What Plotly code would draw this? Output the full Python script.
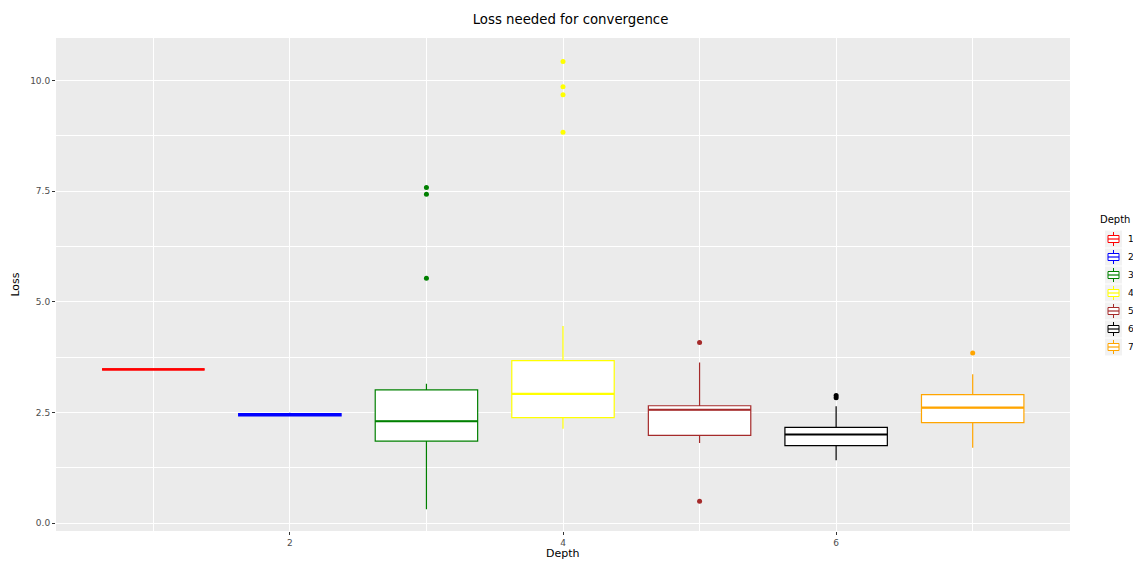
import plotly.graph_objects as go

depths = [1, 2, 3, 4, 5, 6, 7]
colors = ["red", "blue", "green", "yellow", "brown", "black", "orange"]
lower_fence = [3.47, 2.41, 0.31, 2.13, 1.81, 1.42, 1.70]
q1_vals = [3.47, 2.42, 1.85, 2.38, 1.98, 1.75, 2.27]
median_vals = [3.47, 2.44, 2.30, 2.92, 2.56, 2.00, 2.61]
q3_vals = [3.47, 2.47, 3.01, 3.67, 2.65, 2.16, 2.90]
upper_fence = [3.47, 2.49, 3.15, 4.45, 3.63, 2.64, 3.36]
outliers = {
    1: [],
    2: [],
    3: [7.58, 7.43, 5.53],
    4: [10.43, 9.86, 9.68, 8.83],
    5: [4.08, 0.49],
    6: [2.88, 2.83],
    7: [3.84],
}
box_width = 0.75

fig = go.Figure()
for i, d in enumerate(depths):
    fig.add_trace(go.Box(
        x=[d], q1=[q1_vals[i]], median=[median_vals[i]], q3=[q3_vals[i]],
        lowerfence=[lower_fence[i]], upperfence=[upper_fence[i]],
        name=str(d), width=box_width, whiskerwidth=0,
        line=dict(color=colors[i], width=1.2 if d > 1 else 2.2),
        fillcolor="white", boxpoints=False, hoverinfo="skip", showlegend=False,
    ))
    # thicker median line, as in ggplot
    fig.add_trace(go.Scatter(
        x=[d - box_width / 2, d + box_width / 2], y=[median_vals[i]] * 2,
        mode="lines", line=dict(color=colors[i], width=2.2 if d != 2 else 1.2),
        showlegend=False, hoverinfo="skip",
    ))
    if outliers[d]:
        fig.add_trace(go.Scatter(
            x=[d] * len(outliers[d]), y=outliers[d], mode="markers",
            marker=dict(color=colors[i], size=5), showlegend=False,
            hoverinfo="skip",
        ))

# ---- manual ggplot-style legend (layout, in paper coordinates) ----
PL, PR, PT, PB = 56, 1070, 38, 531  # plot area in page pixels


def px(x):
    return (x - PL) / (PR - PL)


def py(y):
    return (PB - y) / (PB - PT)


shapes = []
annotations = [dict(text="Depth", x=px(1098), y=py(220), xref="paper", yref="paper",
                    xanchor="left", yanchor="middle", showarrow=False,
                    font=dict(size=10, color="black")),
               dict(text="Depth", x=0.5, y=py(553), xref="paper", yref="paper",
                    xanchor="center", yanchor="middle", showarrow=False,
                    font=dict(size=11, color="black"))]
for i, d in enumerate(depths):
    cy = 239 + 18 * i
    c = colors[i]
    shapes.append(dict(type="rect", xref="paper", yref="paper",
                       x0=px(1105), x1=px(1122), y0=py(cy + 8.5), y1=py(cy - 8.5),
                       fillcolor="#F2F2F2", line=dict(width=0), layer="above"))
    shapes.append(dict(type="line", xref="paper", yref="paper",
                       x0=px(1113.5), x1=px(1113.5), y0=py(cy + 7), y1=py(cy - 7),
                       line=dict(color=c, width=1), layer="above"))
    shapes.append(dict(type="rect", xref="paper", yref="paper",
                       x0=px(1108), x1=px(1119), y0=py(cy + 3.5), y1=py(cy - 3.5),
                       fillcolor="white", line=dict(color=c, width=1), layer="above"))
    shapes.append(dict(type="line", xref="paper", yref="paper",
                       x0=px(1108), x1=px(1119), y0=py(cy), y1=py(cy),
                       line=dict(color=c, width=1.2), layer="above"))
    annotations.append(dict(text=str(d), x=px(1126), y=py(cy), xref="paper", yref="paper",
                            xanchor="left", yanchor="middle", showarrow=False,
                            font=dict(size=9, color="black")))

fig.update_layout(
    width=1125, height=553,
    margin=dict(l=48, r=63, t=30, b=30, autoexpand=False),
    paper_bgcolor="white", plot_bgcolor="#EBEBEB",
    font=dict(family="DejaVu Sans", color="#4D4D4D", size=9),
    title=dict(text="Loss needed for convergence", x=0.5, xanchor="center",
               y=0.98, yanchor="middle",
               font=dict(size=13.3, color="black")),
    showlegend=False,
    shapes=shapes,
    annotations=annotations,
    boxmode="overlay",
)
fig.update_xaxes(
    range=[0.2875, 7.7125], tickvals=[2, 4, 6], ticktext=["2", "4", "6"],
    showgrid=True, gridcolor="white", gridwidth=1.1, zeroline=False,
    ticks="outside", ticklen=3, tickcolor="#333333",
    minor=dict(tickvals=[1, 3, 5, 7], showgrid=True, gridcolor="white", gridwidth=0.5, ticks=""),
)
fig.update_yaxes(
    range=[-0.18, 10.96], tickvals=[0, 2.5, 5, 7.5, 10],
    ticktext=["0.0", "2.5", "5.0", "7.5", "10.0"],
    showgrid=True, gridcolor="white", gridwidth=1.1, zeroline=False,
    ticks="outside", ticklen=3, tickcolor="#333333",
    minor=dict(tickvals=[1.25, 3.75, 6.25, 8.75], showgrid=True, gridcolor="white", gridwidth=0.5, ticks=""),
    title=dict(text="Loss", font=dict(size=11, color="black"), standoff=8),
)
fig.write_html("out.html")
